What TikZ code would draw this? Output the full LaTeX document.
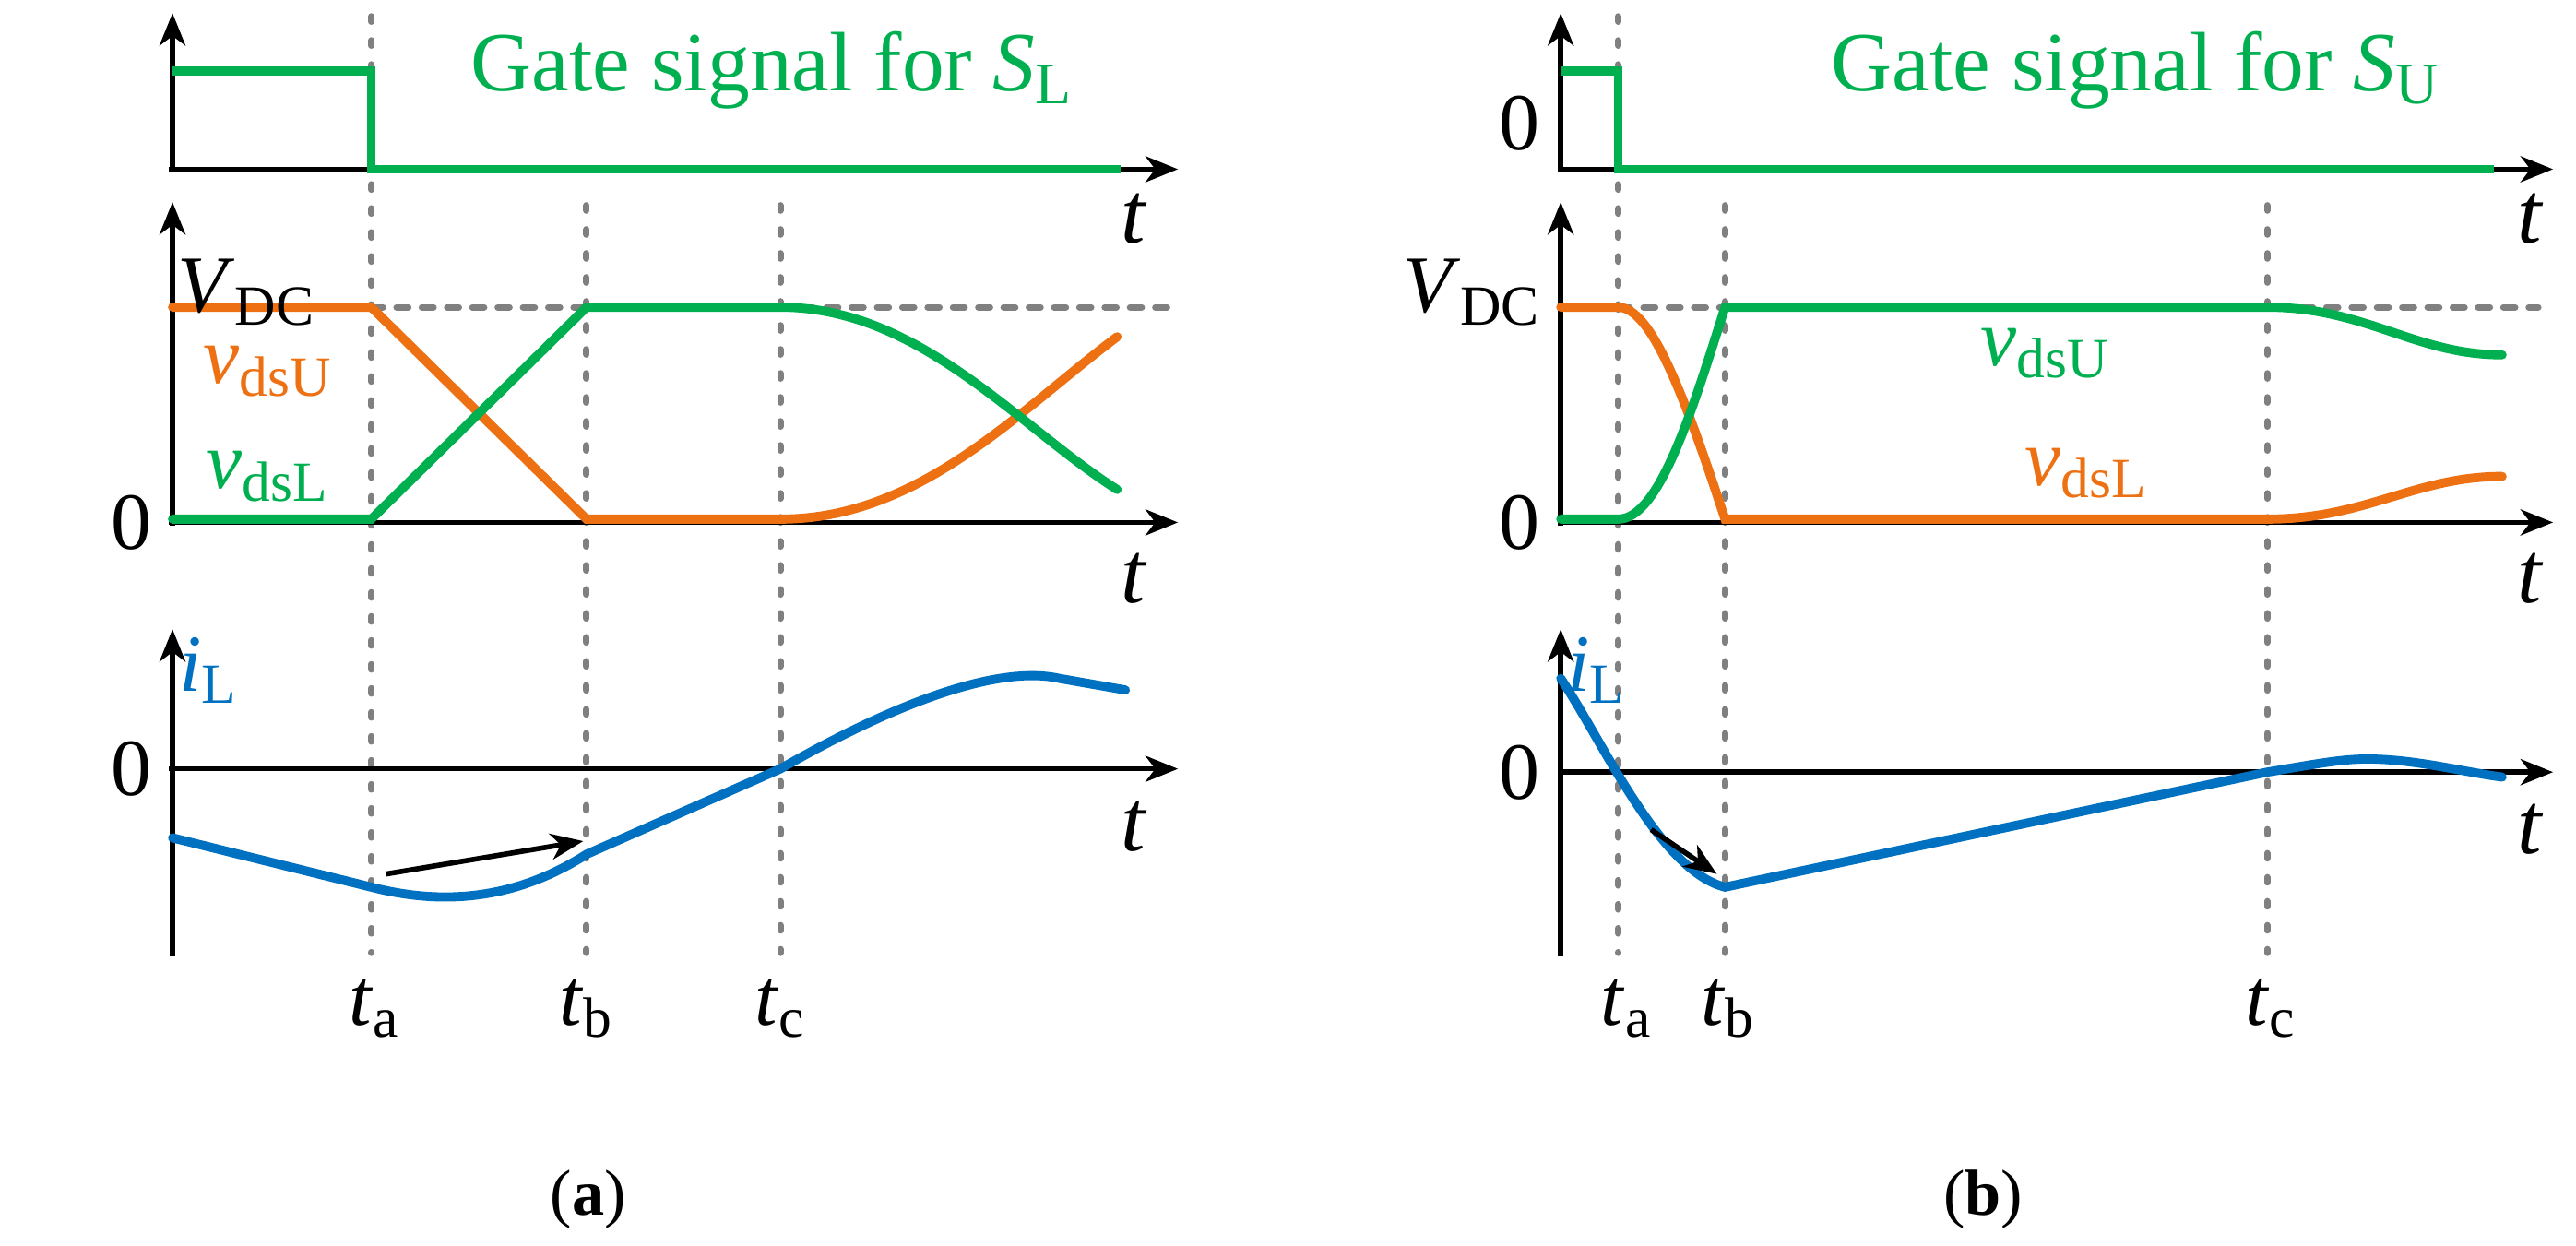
\documentclass[tikz,border=0pt]{standalone}
\usepackage{fontspec}
\setmainfont{Liberation Serif}
\usetikzlibrary{arrows.meta}
\definecolor{gG}{RGB}{0,176,80}
\definecolor{gO}{RGB}{237,112,18}
\definecolor{gB}{RGB}{0,112,192}
\begin{document}
\begin{tikzpicture}[x=0.017813cm,y=-0.017813cm,
  ax/.style={line width=1.6pt,-{Stealth[length=10pt,width=8pt,inset=3pt]}},
  vdsh/.style={gray,line width=2pt,line cap=round,dash pattern=on 1.6pt off 5.8pt},
  hdsh/.style={gray,line width=2pt,line cap=round,dash pattern=on 3.6pt off 4.2pt},
  sig/.style={line width=2.8pt,line cap=round},
  lbl/.style={font=\fontsize{26}{30}\selectfont},
  big/.style={font=\fontsize{25}{30}\selectfont},
  tl/.style={font=\fontsize{27}{32}\selectfont\itshape},
  captxt/.style={font=\fontsize{20}{24}\selectfont}]
\useasboundingbox (0,0) rectangle (1568,758);
% ===== panel a =====
\draw[vdsh] (226,10) -- (226,580);
\draw[vdsh] (357,125) -- (357,580);
\draw[vdsh] (475,125) -- (475,580);
\draw[hdsh] (226,187) -- (715,187);
\draw[ax] (105,105) -- (105,8);
\draw[ax] (103,103) -- (717,103);
\draw[ax] (105,320) -- (105,123);
\draw[ax] (103,318) -- (717,318);
\draw[ax] (105,582) -- (105,383);
\draw[ax] (103,468) -- (717,468);
\draw[sig,gG,line cap=butt] (105,43) -- (226,43) -- (226,103) -- (682,103);
\draw[sig,gO] (105,187) -- (226,187) -- (357,316) -- (475,316) .. controls (560,316) and (620,250) .. (680,205);
\draw[sig,gG] (105,316) -- (226,316) -- (357,187) -- (475,187) .. controls (560,187) and (620,260) .. (680,298);
\draw[sig,gB] (105,510) -- (226,540) .. controls (265,550) and (310,550) .. (357,520) -- (475,468) .. controls (550,425) and (610,405) .. (645,413) .. controls (665,416) .. (685,420);
\coordinate (a1) at (235,532); \coordinate (a2) at (355,512);
\draw[line width=1.6pt,-{Stealth[length=10pt,width=8pt,inset=3pt]}] (a1) -- (a2);
\node[lbl,gG] (ga) at (470,43) {Gate signal for \textit{S}\textsubscript{L}};
\node[tl] (t1) at (690,133) {t};
\node[tl] (t2) at (690,352) {t};
\node[tl] (t3) at (690,503) {t};
\node[big] (vdc) at (150,178) {\textit{V}\textsubscript{DC}};
\node[big] (z1) at (80,318) {0};
\node[big] (z2) at (80,468) {0};
\node[big,gO] (vu) at (163,226) {\textit{v}\textsubscript{dsU}};
\node[big,gG] (vl) at (163,290) {\textit{v}\textsubscript{dsL}};
\node[big,gB] (il) at (127,408) {\textit{i}\textsubscript{L}};
\node[big] (ta) at (228,614) {\textit{t}\textsubscript{a}};
\node[big] (tb) at (357,614) {\textit{t}\textsubscript{b}};
\node[big] (tc) at (475,614) {\textit{t}\textsubscript{c}};
\node[captxt] (ca) at (358,730) {(\textbf{a})};
% ===== panel b =====
\draw[vdsh] (985,10) -- (985,580);
\draw[vdsh] (1050,125) -- (1050,580);
\draw[vdsh] (1380,125) -- (1380,580);
\draw[hdsh] (985,187) -- (1545,187);
\draw[ax] (950,105) -- (950,8);
\draw[ax] (948,103) -- (1554,103);
\draw[ax] (950,320) -- (950,123);
\draw[ax] (948,318) -- (1554,318);
\draw[ax] (950,582) -- (950,383);
\draw[ax] (948,470) -- (1554,470);
\draw[sig,gG,line cap=butt] (950,43) -- (985,43) -- (985,103) -- (1518,103);
\draw[sig,gO] (950,187) -- (985,187) .. controls (1005,187) and (1025,240) .. (1050,316) -- (1380,316) .. controls (1440,316) and (1470,290) .. (1523,290);
\draw[sig,gG] (950,316) -- (985,316) .. controls (1010,316) and (1030,250) .. (1050,187) -- (1380,187) .. controls (1440,187) and (1470,216) .. (1523,216);
\draw[sig,gB] (950,413) .. controls (975,450) and (1010,530) .. (1050,540) -- (1380,470) .. controls (1410,465) and (1425,462) .. (1441,462) .. controls (1470,462) and (1500,470) .. (1523,473);
\coordinate (b1) at (1005,505); \coordinate (b2) at (1045,532);
\draw[line width=1.6pt,-{Stealth[length=10pt,width=8pt,inset=3pt]}] (b1) -- (b2);
\node[lbl,gG] (gb) at (1300,43) {Gate signal for \textit{S}\textsubscript{U}};
\node[big] (z0) at (925,75) {0};
\node[tl] (u1) at (1540,133) {t};
\node[tl] (u2) at (1540,352) {t};
\node[tl] (u3) at (1540,505) {t};
\node[big] (vdcb) at (896,178) {\textit{V}\textsubscript{DC}};
\node[big] (z3) at (925,318) {0};
\node[big] (z4) at (925,470) {0};
\node[big,gG] (vub) at (1245,215) {\textit{v}\textsubscript{dsU}};
\node[big,gO] (vlb) at (1270,288) {\textit{v}\textsubscript{dsL}};
\node[big,gB] (ilb) at (972,408) {\textit{i}\textsubscript{L}};
\node[big] (tab) at (990,614) {\textit{t}\textsubscript{a}};
\node[big] (tbb) at (1052,614) {\textit{t}\textsubscript{b}};
\node[big] (tcb) at (1382,614) {\textit{t}\textsubscript{c}};
\node[captxt] (cb) at (1207,730) {(\textbf{b})};
\end{tikzpicture}
\end{document}
